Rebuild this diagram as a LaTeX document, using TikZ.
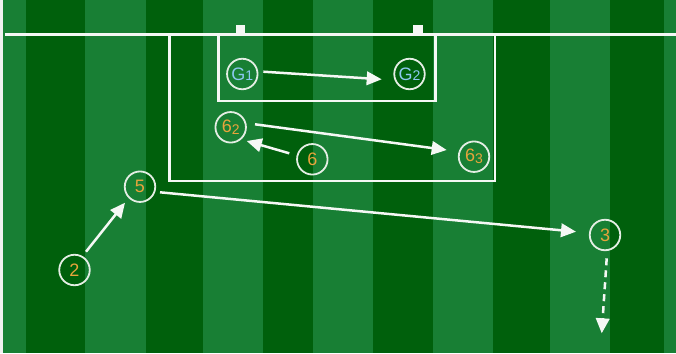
\documentclass[tikz,border=0pt]{standalone}
\usepackage{fontspec}
\setmainfont{Liberation Sans}
\usetikzlibrary{arrows.meta,calc}
\definecolor{lightgrass}{RGB}{24,127,52}
\definecolor{darkgrass}{RGB}{0,96,12}
\definecolor{chalk}{RGB}{245,248,245}
\definecolor{ringc}{RGB}{228,238,228}
\definecolor{orangelbl}{RGB}{232,164,60}
\definecolor{bluelbl}{RGB}{140,200,240}
\tikzset{
  player/.style={circle, draw=ringc, line width=1.8pt, minimum size=30.5pt, inner sep=0pt, outer sep=0pt, font=\fontsize{18}{18}\selectfont},
  orangep/.style={player, text=orangelbl},
  bluep/.style={player, text=bluelbl},
  fieldline/.style={draw=chalk, line width=2.3pt},
  pass/.style={draw=chalk, line width=2.5pt, -{Triangle[length=15pt,width=13.5pt]}},
  run/.style={pass, dash pattern=on 7pt off 5pt}
}
\newcommand{\subsm}[1]{{\fontsize{14}{14}\selectfont #1}}
\newcommand{\sublow}[1]{\raisebox{-2pt}{\fontsize{14}{14}\selectfont #1}}
\begin{document}
\begin{tikzpicture}[x=1pt,y=-1pt]
\useasboundingbox (0,0) rectangle (676,353);
\fill[white!94!black] (0,0) rectangle (676,353);
% stripes
\foreach \a/\b/\c in {3/26/lightgrass,26/85/darkgrass,85/146/lightgrass,146/203/darkgrass,203/263/lightgrass,263/313/darkgrass,313/373/lightgrass,373/433/darkgrass,433/493/lightgrass,493/550/darkgrass,550/610/lightgrass,610/664/darkgrass,664/676/lightgrass}
  \fill[\c] (\a,0) rectangle (\b,353);
% field lines
\draw[fieldline] (5,34.5) -- (676,34.5);
\draw[fieldline] (169.5,34.5) -- (169.5,181) -- (495,181) -- (495,34.5);
\draw[fieldline] (218.5,34.5) -- (218.5,101) -- (435.5,101) -- (435.5,34.5);
\fill[chalk] (236,25) rectangle (245,34);
\fill[chalk] (413,25) rectangle (423,34);
% players
\node[bluep] (G1) at (242.3,74) {G\subsm{1}};
\node[bluep] (G2) at (409.5,74) {G\subsm{2}};
\node[orangep] (s62) at (230.7,127.3) {6\sublow{2}};
\node[orangep] (s6) at (312.3,159.3) {6};
\node[orangep] (s63) at (474,156.7) {6\sublow{3}};
\node[orangep] (s5) at (140,186.7) {5};
\node[orangep] (s2) at (74.5,270) {2};
\node[orangep] (s3) at (605,235) {3};
\coordinate (runend) at (601.7,333.3);
% passes
\draw[pass] ($(G1)+(21,-2.3)$) -- ($(G2)+(-27.8,5.3)$);
\draw[pass] ($(s62)+(24.3,-3)$) -- ($(s63)+(-27.3,-6.7)$);
\draw[pass] ($(s6)+(-23,-6)$) -- ($(s62)+(16,13.7)$);
\draw[pass] ($(s5)+(20,5.6)$) -- ($(s3)+(-29,-3.3)$);
\draw[pass] ($(s2)+(11.5,-18.3)$) -- ($(s5)+(-15,16)$);
\draw[run] ($(s3)+(1.7,23.3)$) -- (runend);
\end{tikzpicture}
\end{document}
